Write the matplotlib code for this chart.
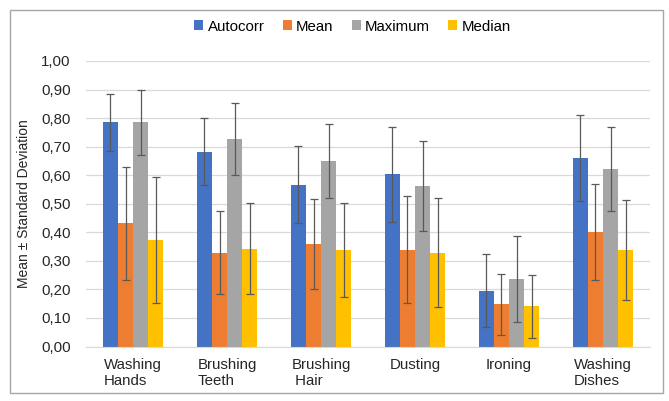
import matplotlib.pyplot as plt
import numpy as np
from matplotlib.ticker import FuncFormatter
from matplotlib.patches import Rectangle

plt.rcParams['font.family'] = ['Liberation Sans', 'DejaVu Sans']

#%% data
categories = ["Washing\nHands", "Brushing\nTeeth", "Brushing\n Hair", "Dusting", "Ironing", "Washing\nDishes"]
series = ["Autocorr", "Mean", "Maximum", "Median"]

autocorr = [0.785, 0.682, 0.566, 0.603, 0.196, 0.661]
autocorrSd = [0.100, 0.117, 0.135, 0.167, 0.129, 0.150]
meanVals = [0.431, 0.329, 0.360, 0.339, 0.148, 0.401]
meanSd = [0.198, 0.146, 0.157, 0.187, 0.106, 0.168]
maximum = [0.785, 0.726, 0.649, 0.562, 0.236, 0.621]
maximumSd = [0.115, 0.127, 0.129, 0.158, 0.150, 0.147]
median = [0.373, 0.343, 0.339, 0.329, 0.141, 0.339]
medianSd = [0.221, 0.160, 0.165, 0.192, 0.110, 0.175]

colors = ["#4472C4", "#ED7D31", "#A5A5A5", "#FFC000"]

#%% plot
fig = plt.figure(figsize=(6.69, 4.01), dpi=100)
ax = fig.add_axes([0.1286, 0.1359, 0.843, 0.712])

x = np.arange(len(categories))
barWidth = 0.16
allVals = [autocorr, meanVals, maximum, median]
allSd = [autocorrSd, meanSd, maximumSd, medianSd]
for i in range(4):
    offset = (i - 1.5) * barWidth
    ax.bar(x + offset, allVals[i], barWidth, color=colors[i], label=series[i], zorder=2)
    ax.errorbar(x + offset, allVals[i], yerr=allSd[i], fmt='none', ecolor='#595959',
                elinewidth=0.9, capsize=3, capthick=0.9, zorder=3)

ax.set_xlim(-0.5, len(categories) - 0.5)
ax.set_ylim(0, 1.0)
ax.set_yticks(np.arange(0, 1.01, 0.1))
ax.yaxis.set_major_formatter(FuncFormatter(lambda v, p: ("%.2f" % v).replace('.', ',')))
ax.yaxis.grid(True, color='#D9D9D9', linewidth=0.9, zorder=0)
ax.set_axisbelow(True)
for s in ['top', 'right', 'left']:
    ax.spines[s].set_visible(False)
ax.spines['bottom'].set_color('#D9D9D9')
ax.tick_params(axis='both', length=0, labelsize=10.8, colors='#262626')
ax.tick_params(axis='y', pad=11)
ax.set_xticks(x)
ax.set_xticklabels(categories, multialignment='left')
ax.tick_params(axis='x', pad=8)
ax.set_ylabel("Mean ± Standard Deviation", fontsize=10, color='#262626', labelpad=7)

fig.legend(loc='upper center', bbox_to_anchor=(0.527, 0.985), ncol=4, frameon=False,
           fontsize=10.8, handlelength=0.6, handleheight=0.6, handletextpad=0.3, columnspacing=1.2)

fig.patches.append(Rectangle((0.015, 0.02), 0.976, 0.955, transform=fig.transFigure,
                             fill=False, edgecolor='#A6A6A6', linewidth=1))

fig.savefig('out.png', dpi=100)
